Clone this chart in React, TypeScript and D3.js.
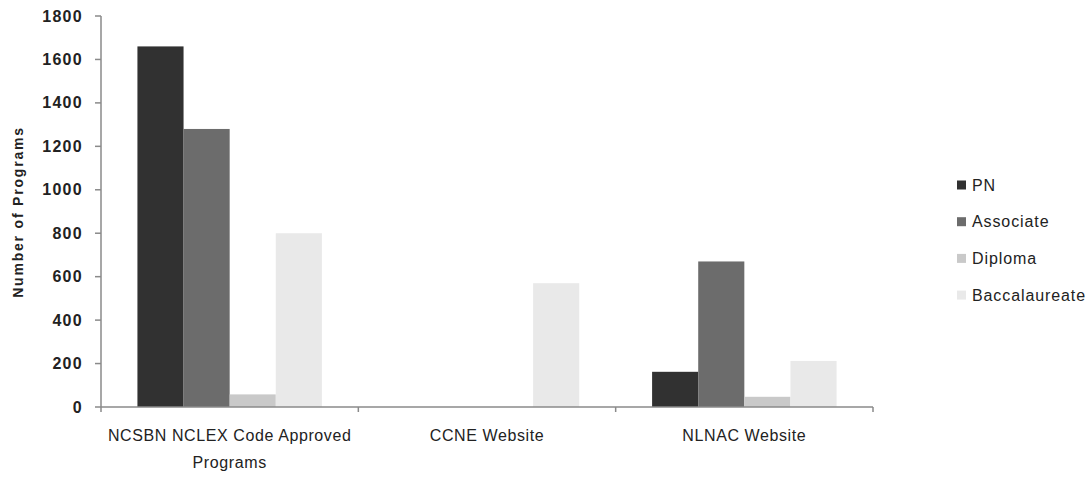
import React from "react";
import * as d3 from "d3";

const categories = ["NCSBN NCLEX Code Approved Programs", "CCNE Website", "NLNAC Website"];
const categoryLines = [["NCSBN NCLEX Code Approved", "Programs"], ["CCNE Website"], ["NLNAC Website"]];
const seriesNames = ["PN", "Associate", "Diploma", "Baccalaureate"];
const pnValues = [1660, 0, 162];
const associateValues = [1280, 0, 670];
const diplomaValues = [58, 0, 47];
const baccalaureateValues = [800, 570, 212];
const yTicks = [0, 200, 400, 600, 800, 1000, 1200, 1400, 1600, 1800];

const seriesValues = [pnValues, associateValues, diplomaValues, baccalaureateValues];
const colors = ["#313131", "#6c6c6c", "#c9c9c9", "#e9e9e9"];

const W = 1087;
const H = 477;
const left = 101;
const right = 873;
const top = 16;
const bottom = 407;
const font = "'Liberation Sans', Arial, sans-serif";

export default function App() {
  const x0 = d3.scaleBand<string>().domain(categories).range([left, right]).paddingInner(0).paddingOuter(0);
  const x1 = d3.scaleBand<string>().domain(seriesNames).range([0, x0.bandwidth()]).paddingInner(0).paddingOuter(0.79);
  const y = d3.scaleLinear().domain([0, 1800]).range([bottom, top]);

  const boundaries = [...categories.map((c) => x0(c) as number), right];

  return (
    <svg width={W} height={H} style={{ position: "absolute", left: 0, top: 0, background: "#fff" }}>
      <rect x={0} y={0} width={W} height={H} fill="#fff" />
      {/* bars */}
      {categories.map((c, ci) => (
        <g key={c}>
          {seriesNames.map((s, si) => {
            const v = seriesValues[si][ci];
            if (!v) return null;
            return (
              <rect
                key={s}
                x={(x0(c) as number) + (x1(s) as number)}
                y={y(v)}
                width={x1.bandwidth()}
                height={y(0) - y(v)}
                fill={colors[si]}
              />
            );
          })}
        </g>
      ))}
      {/* y axis */}
      <line x1={left} x2={left} y1={top} y2={bottom} stroke="#8a8a8a" strokeWidth={1.5} />
      {yTicks.map((t) => (
        <g key={t}>
          <line x1={left - 6} x2={left} y1={y(t)} y2={y(t)} stroke="#8a8a8a" strokeWidth={1.5} />
          <text
            x={83}
            y={y(t)}
            dy="0.35em"
            textAnchor="end"
            fontFamily={font}
            fontSize={16}
            fontWeight="bold"
            fill="#222"
            letterSpacing={1.3}
          >
            {t}
          </text>
        </g>
      ))}
      {/* x axis */}
      <line x1={left} x2={right} y1={bottom} y2={bottom} stroke="#8a8a8a" strokeWidth={1.5} />
      {boundaries.map((b, i) => (
        <line key={i} x1={b} x2={b} y1={bottom} y2={bottom + 5} stroke="#8a8a8a" strokeWidth={1.5} />
      ))}
      {categories.map((c, ci) => (
        <text key={c} textAnchor="middle" fontFamily={font} fontSize={16} fill="#222" letterSpacing={0.6}>
          {categoryLines[ci].map((line, li) => (
            <tspan key={li} x={(x0(c) as number) + x0.bandwidth() / 2} y={441 + li * 27}>
              {line}
            </tspan>
          ))}
        </text>
      ))}
      {/* y axis title */}
      <text
        transform={`translate(23, ${212}) rotate(-90)`}
        textAnchor="middle"
        fontFamily={font}
        fontSize={14}
        fontWeight="bold"
        fill="#222"
        letterSpacing={1.8}
      >
        Number of Programs
      </text>
      {/* legend */}
      {seriesNames.map((s, i) => (
        <g key={s} transform={`translate(957, ${185 + i * 36.7})`}>
          <rect x={0} y={-4.5} width={9} height={9} fill={colors[i]} />
          <text x={15} y={0} dy="0.35em" fontFamily={font} fontSize={16} fill="#222" letterSpacing={0.9}>
            {s}
          </text>
        </g>
      ))}
    </svg>
  );
}
